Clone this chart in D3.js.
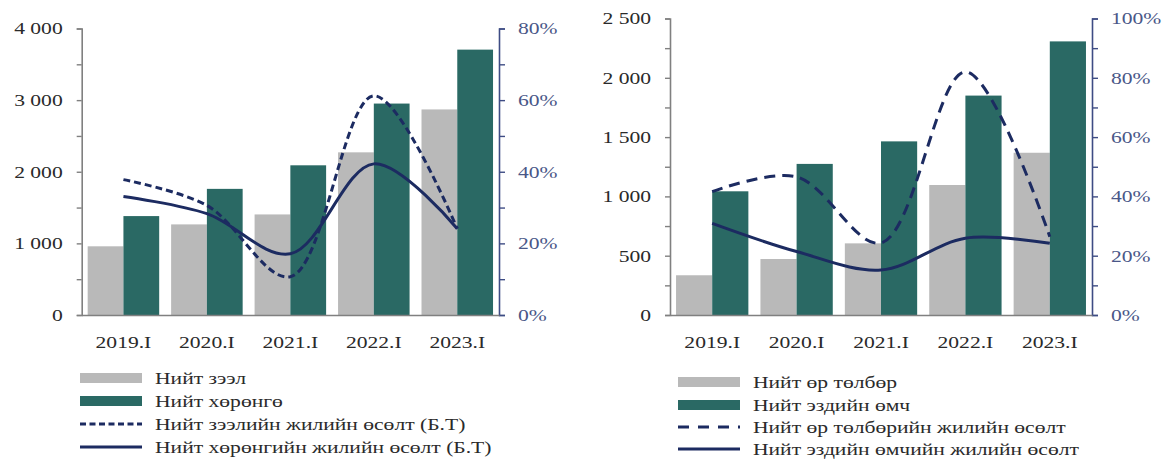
<!DOCTYPE html>
<html>
<head>
<meta charset="utf-8">
<script src="https://cdn.jsdelivr.net/npm/d3@7"></script>
<style>
  html, body { margin: 0; padding: 0; background: #fff; }
  svg { display: block; }
  text { font-family: "Liberation Serif", "DejaVu Serif", serif; }
</style>
</head>
<body>
<svg id="chart" width="1168" height="459"></svg>
<script>
// ---------- data ----------
const categories = ["2019.I", "2020.I", "2021.I", "2022.I", "2023.I"];

// left chart
const totalLoans = [959, 1265, 1404, 2271, 2870];
const totalAssets = [1381, 1761, 2090, 2952, 3705];
const loanGrowth = [37.8, 30.6, 10.7, 61.2, 24.1];
const assetGrowth = [33.1, 28.3, 17.1, 42.2, 24.1];
const leftTicksA = [0, 500, 1000, 1500, 2000, 2500, 3000, 3500, 4000];
const leftLabelsA = [0, 1000, 2000, 3000, 4000];
const rightTicksA = [0, 10, 20, 30, 40, 50, 60, 70, 80];
const rightLabelsA = [0, 20, 40, 60, 80];
const legendA = ["Нийт зээл", "Нийт хөрөнгө", "Нийт зээлийн жилийн өсөлт (Б.Т)", "Нийт хөрөнгийн жилийн өсөлт (Б.Т)"];

// right chart
const totalPayables = [335, 472, 604, 1096, 1368];
const totalEquity = [1043, 1274, 1464, 1850, 2307];
const payablesGrowth = [41.6, 46.6, 24.3, 82.0, 26.4];
const equityGrowth = [30.9, 21.4, 15.2, 25.9, 24.2];
const leftTicksB = [0, 250, 500, 750, 1000, 1250, 1500, 1750, 2000, 2250, 2500];
const leftLabelsB = [0, 500, 1000, 1500, 2000, 2500];
const rightTicksB = [0, 10, 20, 30, 40, 50, 60, 70, 80, 90, 100];
const rightLabelsB = [0, 20, 40, 60, 80, 100];
const legendB = ["Нийт өр төлбөр", "Нийт эздийн өмч", "Нийт өр төлбөрийн жилийн өсөлт", "Нийт эздийн өмчийн жилийн өсөлт"];

// ---------- style ----------
const GRAY = "#b9b9b9";
const TEAL = "#2a6964";
const NAVY = "#1c2b61";
const AXIS_GRAY = "#808080";
const AXIS_BLUE = "#3e4c84";
const LABEL_DARK = "#2a2a2a";
const LABEL_BLUE = "#4a5788";
const SX = 1.27; // horizontal text stretch

const svg = d3.select("#chart");
const locale = d3.formatLocale({ decimal: ",", thousands: " ", grouping: [3], currency: ["", ""] });
const fmt = locale.format(",d");

function stretchText(sel) {
  sel.each(function () {
    const t = d3.select(this);
    const x = +t.attr("x") || 0;
    t.attr("x", x / SX).attr("transform", `scale(${SX},1)`);
  });
}

function drawChart(cfg) {
  const g = svg.append("g");
  const { x0, x1, y0, y1 } = cfg;

  const x = d3.scaleBand().domain(categories).range([x0, x1])
    .paddingInner(0.143).paddingOuter(0.0715);
  const xs = d3.scaleBand().domain(["a", "b"]).range([0, x.bandwidth()]).padding(0);
  const y = d3.scaleLinear().domain([0, cfg.yMax]).range([y0, y1]);
  const y2 = d3.scaleLinear().domain([0, cfg.y2Max]).range([y0, y1]);

  // bars
  const groups = g.append("g").selectAll("g").data(categories).join("g")
    .attr("transform", d => `translate(${x(d)},0)`);
  groups.append("rect")
    .attr("x", xs("a")).attr("width", xs.bandwidth())
    .attr("y", (d, i) => y(cfg.barA[i]))
    .attr("height", (d, i) => y0 - y(cfg.barA[i]))
    .attr("fill", GRAY);
  groups.append("rect")
    .attr("x", xs("b")).attr("width", xs.bandwidth())
    .attr("y", (d, i) => y(cfg.barB[i]))
    .attr("height", (d, i) => y0 - y(cfg.barB[i]))
    .attr("fill", TEAL);

  // left axis
  const la = g.append("g").attr("transform", `translate(${x0},0)`)
    .call(d3.axisLeft(y).tickValues(cfg.leftTicks).tickSize(5).tickPadding(14)
      .tickFormat(d => cfg.leftLabels.includes(d) ? fmt(d) : ""));
  la.select(".domain").attr("stroke", AXIS_GRAY).attr("stroke-width", 1.6);
  la.selectAll(".tick line").attr("stroke", AXIS_GRAY).attr("stroke-width", 1.4);
  la.selectAll("text").attr("font-size", 17).attr("fill", LABEL_DARK).call(stretchText);

  // right axis
  const ra = g.append("g").attr("transform", `translate(${x1},0)`)
    .call(d3.axisRight(y2).tickValues(cfg.rightTicks).tickSize(6).tickPadding(13)
      .tickFormat(d => cfg.rightLabels.includes(d) ? d + "%" : ""));
  ra.select(".domain").attr("stroke", AXIS_BLUE).attr("stroke-width", 1.6);
  ra.selectAll(".tick line").attr("stroke", AXIS_BLUE).attr("stroke-width", 1.4);
  ra.selectAll("text").attr("font-size", 17).attr("fill", LABEL_BLUE).call(stretchText);

  // bottom axis
  const ba = g.append("g").attr("transform", `translate(0,${y0})`)
    .call(d3.axisBottom(x).tickSize(0).tickPadding(21));
  ba.select(".domain").attr("stroke", AXIS_GRAY).attr("stroke-width", 1.6);
  ba.selectAll("text").attr("font-size", 17).attr("fill", LABEL_DARK).call(stretchText);

  // lines
  const line = d3.line()
    .x((d, i) => x(categories[i]) + x.bandwidth() / 2)
    .y(d => y2(d))
    .curve(d3.curveCatmullRom.alpha(0.5));
  g.append("path").datum(cfg.lineA).attr("d", line)
    .attr("fill", "none").attr("stroke", NAVY).attr("stroke-width", 3)
    .attr("stroke-dasharray", cfg.dash);
  g.append("path").datum(cfg.lineB).attr("d", line)
    .attr("fill", "none").attr("stroke", NAVY).attr("stroke-width", 3);

  // legend
  const lg = g.append("g");
  cfg.legend.forEach((label, i) => {
    const ly = cfg.legendY[i];
    if (i < 2) {
      lg.append("rect").attr("x", cfg.legendX).attr("y", ly - 5).attr("width", 62).attr("height", 10)
        .attr("fill", i === 0 ? GRAY : TEAL);
    } else {
      lg.append("line").attr("x1", cfg.legendX).attr("x2", cfg.legendX + 62)
        .attr("y1", ly).attr("y2", ly)
        .attr("stroke", NAVY).attr("stroke-width", 3)
        .attr("stroke-dasharray", i === 2 ? cfg.legendDash : null);
    }
    lg.append("text").attr("x", cfg.legendX + 75).attr("y", ly).attr("dy", "0.35em")
      .attr("font-size", 17).attr("fill", LABEL_DARK).text(label).call(stretchText);
  });
}

drawChart({
  x0: 81.7, x1: 499, y0: 315, y1: 28.5,
  yMax: 4000, y2Max: 80,
  barA: totalLoans, barB: totalAssets,
  lineA: loanGrowth, lineB: assetGrowth,
  leftTicks: leftTicksA, leftLabels: leftLabelsA,
  rightTicks: rightTicksA, rightLabels: rightLabelsA,
  dash: "7,4", legendDash: "6,3.5",
  legend: legendA, legendX: 80, legendY: [378, 401, 424, 447]
});

drawChart({
  x0: 670, x1: 1092, y0: 315, y1: 18.5,
  yMax: 2500, y2Max: 100,
  barA: totalPayables, barB: totalEquity,
  lineA: payablesGrowth, lineB: equityGrowth,
  leftTicks: leftTicksB, leftLabels: leftLabelsB,
  rightTicks: rightTicksB, rightLabels: rightLabelsB,
  dash: "11,7", legendDash: "11,9",
  legend: legendB, legendX: 678, legendY: [382, 405, 427, 449]
});
</script>
</body>
</html>
